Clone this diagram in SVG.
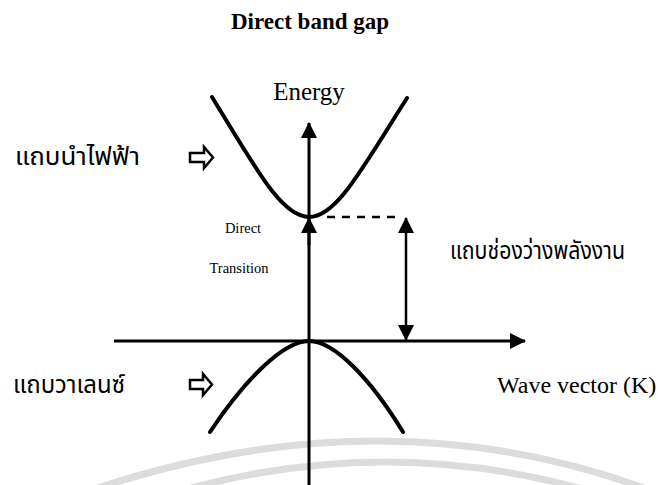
<svg xmlns="http://www.w3.org/2000/svg" width="664" height="485" viewBox="0 0 664 485">
<style>
.serif{font-family:"Liberation Serif","Times New Roman",serif;fill:#000}
.thai{font-family:"Noto Sans Thai","Noto Serif Thai","Loma","Garuda","Norasi","DejaVu Sans",sans-serif;fill:#000}
.band{fill:none;stroke:#000;stroke-width:4;stroke-linecap:round}
.axis{fill:none;stroke:#000;stroke-width:3}
.thin{fill:none;stroke:#000;stroke-width:2.5}
.hollow{fill:#fff;stroke:#000;stroke-width:2.5;stroke-linejoin:miter}
.wm{fill:none;stroke:#dcdcdc;stroke-width:7}
</style>
<defs>
<marker id="ah" viewBox="0 0 16 16" refX="15" refY="8" markerWidth="16" markerHeight="16" orient="auto-start-reverse" markerUnits="userSpaceOnUse">
<path d="M0,0 L16,8 L0,16 Z" fill="#000"/>
</marker>
</defs>
<rect width="664" height="485" fill="#fff"/>
<g id="watermark">
<path class="wm" d="M80,494 Q385,388 660,494"/>
<path class="wm" d="M170,494 Q385,430 600,494"/>
</g>
<g id="title"><text class="serif" x="310" y="29" font-size="24" font-weight="bold" text-anchor="middle" textLength="158" lengthAdjust="spacingAndGlyphs">Direct band gap</text></g>
<g id="energy-label"><text class="serif" x="309" y="100" font-size="25" text-anchor="middle">Energy</text></g>
<g id="conduction-band"><path class="band" d="M212,97 C258,172 282,217 309,217 C336,217 360,172 407,98"/></g>
<g id="valence-band"><path class="band" d="M210,432 C246,378 284,341 309,341 C334,341 370,378 403,432"/></g>
<g id="connectors">
<line class="axis" x1="309" y1="485" x2="309" y2="123" marker-end="url(#ah)"/>
<line class="axis" x1="114" y1="341" x2="525" y2="341" marker-end="url(#ah)"/>
<line class="axis" x1="309" y1="245" x2="309" y2="218" marker-end="url(#ah)"/>
<line class="thin" x1="327" y1="217" x2="400" y2="217" stroke-dasharray="8 7"/>
<line class="thin" x1="406" y1="218" x2="406" y2="340" marker-start="url(#ah)" marker-end="url(#ah)"/>
</g>
<g id="direct-transition-label">
<text class="serif" x="243" y="233" font-size="14.5" text-anchor="middle">Direct</text>
<text class="serif" x="239" y="273" font-size="14.5" text-anchor="middle">Transition</text>
</g>
<g id="conduction-label">
<text class="thai" x="15" y="165" font-size="24" textLength="125" lengthAdjust="spacingAndGlyphs">แถบนำไฟฟ้า</text>
<path class="hollow" d="M190,153 L204,153 L204,147 L213,157.5 L204,168 L204,162 L190,162 Z"/>
</g>
<g id="gap-label"><text class="thai" x="450" y="259" font-size="24" textLength="175" lengthAdjust="spacingAndGlyphs">แถบช่องว่างพลังงาน</text></g>
<g id="valence-label">
<text class="thai" x="13" y="393" font-size="24" textLength="112" lengthAdjust="spacingAndGlyphs">แถบวาเลนซ์</text>
<path class="hollow" d="M190,380 L203,380 L203,374 L212,384.5 L203,395 L203,389 L190,389 Z"/>
</g>
<g id="k-label"><text class="serif" x="497" y="393" font-size="24">Wave vector (K)</text></g>
</svg>
